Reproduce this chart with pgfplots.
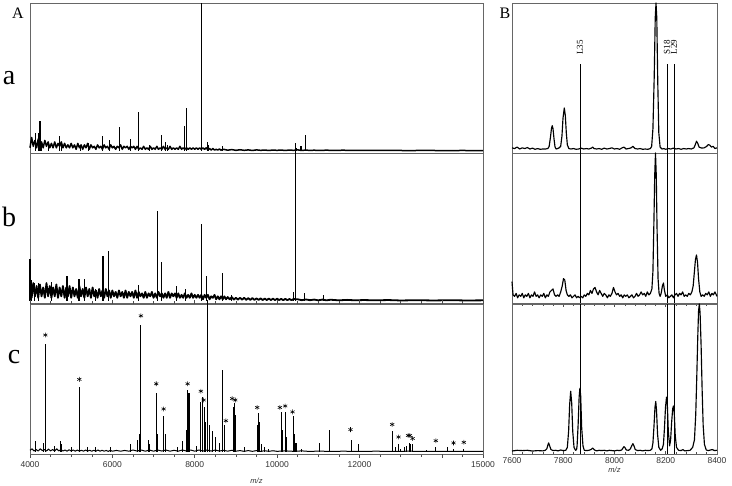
\documentclass[border=0pt]{standalone}
\usepackage{fontspec}
\setmainfont{Liberation Serif}
\setsansfont{Liberation Sans}
\usepackage{pgfplots}
\pgfplotsset{compat=1.18}

\pgfplotsset{
  spec/.style={
    scale only axis, height=150pt,
    ymin=-0.015, ymax=1, ytick=\empty,
    axis line style={black!60, line width=0.6pt},
    clip=false, scaled x ticks=false,
    /pgf/number format/assume math mode=true,
    /pgf/number format/1000 sep={},
    ticklabel style={font=\sffamily\fontsize{8.5}{10}\selectfont, text=black!80},
    xlabel style={font=\sffamily\itshape\fontsize{7.5}{8}\selectfont, text=black!80},
    major tick style={black!70, line width=0.5pt},
    minor tick style={black!70, line width=0.5pt},
  },
  left/.style={spec, width=453pt, xmin=4000, xmax=15000},
  right/.style={spec, width=205pt, xmin=7600, xmax=8400},
  trace/.style={black, line width=1.5pt, mark=none, line join=round},
  rtrace/.style={black, line width=1.15pt, mark=none, line join=round},
  stick/.style={ycomb, black, line width=1.1pt, mark=none},
  marker/.style={black, line width=0.8pt, mark=none},
}

\begin{document}
\begin{tikzpicture}
\path[use as bounding box] (0pt,0pt) rectangle (732pt,486pt);

% ---------------- A a ----------------
\begin{axis}[left, at={(30pt,333pt)}, anchor=south west, xtick=\empty]
\addplot[trace] coordinates {
(4000,0.02) (4040,0.09) (4080,0.03) (4120,0.07) (4160,0.02) (4200,0.08) (4240,0.03) (4280,0.06)
(4320,0.02) (4360,0.07) (4400,0.03) (4440,0.06) (4480,0.02) (4520,0.05) (4560,0.02) (4600,0.06)
(4640,0.02) (4680,0.05) (4720,0.03) (4760,0.06) (4800,0.02) (4840,0.05) (4880,0.02) (4920,0.04)
(4960,0.02) (5000,0.05) (5040,0.02) (5080,0.04) (5120,0.01) (5160,0.05) (5200,0.02) (5240,0.04)
(5280,0.01) (5320,0.04) (5360,0.02) (5400,0.05) (5440,0.01) (5480,0.04) (5520,0.02) (5560,0.03)
(5600,0.01) (5640,0.04) (5680,0.02) (5720,0.03) (5760,0.01) (5800,0.04) (5840,0.02) (5880,0.03)
(5920,0.01) (5960,0.04) (6000,0.02) (6040,0.03) (6080,0.01) (6120,0.03) (6160,0.02) (6200,0.04)
(6240,0.01) (6280,0.03) (6320,0.02) (6360,0.03) (6400,0.01) (6440,0.03) (6480,0.02) (6520,0.03)
(6560,0.01) (6600,0.03) (6640,0.01) (6680,0.02) (6720,0.01) (6760,0.03) (6800,0.01) (6840,0.02)
(6880,0.01) (6920,0.03) (6960,0.01) (7000,0.02) (7040,0.01) (7080,0.03) (7120,0.01) (7160,0.02)
(7200,0.01) (7240,0.03) (7280,0.01) (7320,0.02) (7360,0.01) (7400,0.03) (7440,0.01) (7480,0.02)
(7520,0.01) (7560,0.02) (7600,0.01) (7640,0.03) (7680,0.01) (7720,0.02) (7760,0.01) (7800,0.02)
(7840,0.01) (7880,0.02) (7920,0.01) (7960,0.02) (8000,0.01) (8040,0.02) (8080,0.01) (8120,0.02)
(8160,0.01) (8200,0.02) (8240,0.01) (8280,0.02) (8320,0.005) (8360,0.015) (8400,0.005) (8440,0.015)
(8480,0.005) (8520,0.01) (8560,0.005) (8600,0.012) (8640,0.004) (8700,0.01) (8800,0.004) (8900,0.008)
(9000,0.003) (9100,0.007) (9200,0.003) (9300,0.006) (9400,0.002) (9500,0.006) (9600,0.003) (9700,0.005)
(9800,0.002) (9900,0.005) (10000,0.003) (10100,0.005) (10200,0.002) (10300,0.005) (10400,0.003) (10500,0.006)
(10600,0.002) (10700,0.005) (10800,0.002) (10900,0.004) (11000,0.002) (11200,0.004) (11400,0.002) (11600,0.004)
(11800,0.002) (12000,0.003) (12400,0.002) (12800,0.003) (13200,0.001) (13600,0.003) (14000,0.001) (14500,0.002) (15000,0.001)
};
\addplot[stick] coordinates {
(4130,0.12) (4218,0.12) (4243,0.20) (4290,0.06) (4450,0.05) (4711,0.10) (4760,0.05) (5230,0.04)
(5420,0.05) (5764,0.10) (5925,0.07) (6168,0.16) (6451,0.08) (6629,0.26) (6900,0.04) (7188,0.11)
(7285,0.06) (7330,0.04) (7757,0.17) (7800,0.29) (8160,1.0) (8300,0.06) (8330,0.04) (8677,0.03)
(10449,0.05) (10480,0.02) (10580,0.03) (10690,0.11)
};
\end{axis}

% ---------------- A b ----------------
\begin{axis}[left, at={(30pt,183pt)}, anchor=south west, xtick=\empty]
\addplot[trace, line width=1.8pt] coordinates {
(4000,0.10) (4040,0.02) (4080,0.12) (4120,0.03) (4160,0.10) (4200,0.02) (4240,0.11) (4280,0.03)
(4320,0.09) (4360,0.02) (4400,0.12) (4440,0.03) (4480,0.10) (4520,0.02) (4560,0.09) (4600,0.03)
(4640,0.11) (4680,0.02) (4720,0.09) (4760,0.03) (4800,0.10) (4840,0.02) (4880,0.09) (4920,0.03)
(4960,0.10) (5000,0.02) (5040,0.09) (5080,0.03) (5120,0.08) (5160,0.02) (5200,0.10) (5240,0.03)
(5280,0.08) (5320,0.02) (5360,0.09) (5400,0.03) (5440,0.08) (5480,0.02) (5520,0.09) (5560,0.03)
(5600,0.07) (5640,0.02) (5680,0.08) (5720,0.03) (5760,0.07) (5800,0.02) (5840,0.08) (5880,0.03)
(5920,0.07) (5960,0.02) (6000,0.07) (6040,0.03) (6080,0.06) (6120,0.02) (6160,0.07) (6200,0.03)
(6240,0.06) (6280,0.02) (6320,0.07) (6360,0.02) (6400,0.06) (6440,0.03) (6480,0.06) (6520,0.02)
(6560,0.07) (6600,0.02) (6640,0.06) (6680,0.03) (6720,0.05) (6760,0.02) (6800,0.06) (6840,0.02)
(6880,0.05) (6920,0.03) (6960,0.06) (7000,0.02) (7040,0.05) (7080,0.02) (7120,0.06) (7160,0.03)
(7200,0.05) (7240,0.02) (7280,0.05) (7320,0.02) (7360,0.06) (7400,0.02) (7440,0.05) (7480,0.03)
(7520,0.05) (7560,0.02) (7600,0.05) (7640,0.02) (7680,0.04) (7720,0.02) (7760,0.05) (7800,0.02)
(7840,0.04) (7880,0.02) (7920,0.05) (7960,0.02) (8000,0.04) (8040,0.02) (8080,0.04) (8120,0.02)
(8160,0.04) (8200,0.01) (8240,0.04) (8280,0.02) (8320,0.04) (8360,0.01) (8400,0.03) (8440,0.02)
(8480,0.04) (8520,0.01) (8560,0.03) (8600,0.01) (8640,0.03) (8680,0.01) (8720,0.03) (8760,0.01)
(8800,0.025) (8850,0.01) (8900,0.025) (8950,0.008) (9000,0.02) (9050,0.008) (9100,0.02) (9150,0.008)
(9200,0.02) (9250,0.006) (9300,0.018) (9350,0.006) (9400,0.018) (9450,0.006) (9500,0.016) (9550,0.006)
(9600,0.016) (9650,0.005) (9700,0.015) (9750,0.005) (9800,0.015) (9850,0.005) (9900,0.014) (9950,0.005)
(10000,0.014) (10050,0.005) (10100,0.013) (10150,0.004) (10200,0.013) (10250,0.004) (10300,0.012) (10350,0.004)
(10400,0.012) (10500,0.01) (10600,0.004) (10700,0.009) (10800,0.004) (10900,0.008) (11000,0.003) (11100,0.008)
(11200,0.003) (11300,0.007) (11500,0.003) (11700,0.006) (11900,0.003) (12100,0.005) (12400,0.003) (12700,0.005)
(13000,0.002) (13400,0.004) (13800,0.002) (14200,0.004) (14600,0.002) (15000,0.003)
};
\addplot[stick] coordinates {
(4000,0.28) (4040,0.14) (4100,0.12) (4200,0.12) (4518,0.13) (4898,0.17) (5189,0.15) (5330,0.15)
(5600,0.08) (5772,0.30) (5910,0.34) (6629,0.11) (7099,0.61) (7196,0.26) (7568,0.10) (7779,0.08)
(8160,0.52) (8296,0.17) (8684,0.19) (8900,0.04) (10390,0.06) (10449,1.03) (10660,0.05) (11120,0.04)
};
\end{axis}

% ---------------- A c ----------------
\begin{axis}[left, at={(30pt,32pt)}, anchor=south west,
  xtick={4000,6000,8000,10000,12000,15000},
  extra x ticks={14000}, extra x tick labels={},
  minor xtick={4500,5000,...,14500},
  tick align=outside, major tick length=4pt, minor tick length=3pt,
  xlabel={m/z}, xlabel style={yshift=4pt}]
\addplot[trace, line width=1pt] coordinates {
(4000,0.01) (4050,0.02) (4100,0.005) (4150,0.015) (4200,0.005) (4250,0.02) (4300,0.008) (4350,0.015)
(4400,0.005) (4450,0.018) (4500,0.006) (4550,0.015) (4600,0.005) (4650,0.02) (4700,0.006) (4750,0.015)
(4800,0.005) (4850,0.012) (4900,0.004) (4950,0.014) (5000,0.005) (5050,0.012) (5100,0.004) (5150,0.012)
(5200,0.005) (5250,0.01) (5300,0.004) (5350,0.012) (5400,0.005) (5450,0.01) (5500,0.004) (5550,0.01)
(5600,0.004) (5650,0.012) (5700,0.004) (5750,0.01) (5800,0.004) (5850,0.009) (5900,0.003) (5950,0.01)
(6000,0.004) (6100,0.009) (6200,0.004) (6300,0.009) (6400,0.004) (6500,0.012) (6600,0.005) (6700,0.012)
(6800,0.004) (6900,0.012) (7000,0.004) (7100,0.012) (7200,0.005) (7300,0.012) (7400,0.004) (7500,0.01)
(7600,0.004) (7700,0.012) (7800,0.005) (7900,0.012) (8000,0.004) (8100,0.012) (8200,0.005) (8300,0.012)
(8400,0.005) (8500,0.012) (8600,0.005) (8700,0.01) (8800,0.004) (8900,0.01) (9000,0.004) (9100,0.008)
(9200,0.003) (9300,0.008) (9400,0.003) (9500,0.008) (9600,0.003) (9700,0.007) (9800,0.003) (9900,0.007)
(10000,0.003) (10200,0.006) (10400,0.003) (10600,0.006) (10800,0.002) (11000,0.005) (11300,0.002) (11600,0.004)
(12000,0.002) (12400,0.004) (12800,0.002) (13200,0.004) (13600,0.002) (14000,0.003) (14500,0.002) (15000,0.002)
};
\addplot[stick] coordinates {
(4130,0.07) (4330,0.06) (4372,0.73) (4600,0.04) (4730,0.07) (4760,0.05) (5000,0.03) (5197,0.44)
(5400,0.03) (5600,0.03) (5950,0.03) (6450,0.05) (6620,0.08) (6660,0.12) (6694,0.86) (6880,0.08)
(6900,0.05) (7066,0.40) (7100,0.12) (7245,0.24) (7280,0.12) (7580,0.03) (7700,0.07) (7800,0.15)
(7827,0.42) (7860,0.40) (8050,0.04) (8150,0.34) (8199,0.37) (8230,0.30) (8250,0.20) (8303,1.03)
(8350,0.18) (8434,0.14) (8500,0.10) (8600,0.06) (8684,0.55) (8733,0.18) (8950,0.30) (8968,0.33)
(9000,0.25) (9200,0.03) (9520,0.18) (9541,0.26) (9570,0.20) (9620,0.05) (9700,0.03) (9800,0.02)
(10109,0.27) (10130,0.15) (10206,0.27) (10230,0.10) (10400,0.24) (10420,0.12) (10460,0.06) (10600,0.02)
(11039,0.06) (11274,0.15) (11808,0.08) (11985,0.05) (12811,0.14) (12880,0.03) (12948,0.05) (13000,0.02)
(13100,0.03) (13150,0.04) (13206,0.06) (13250,0.05) (13288,0.05) (13630,0.01) (13854,0.03) (14138,0.03)
(14284,0.02) (14534,0.02)
};
\addplot[only marks, mark=asterisk, mark size=2.4pt, mark options={black, line width=0.55pt}] coordinates {
(4372,0.79) (5197,0.49) (6694,0.92) (7066,0.46) (7245,0.29) (7827,0.46) (8150,0.41) (8215,0.35)
(8757,0.21) (8910,0.36) (8984,0.35) (9517,0.30) (10068,0.30) (10197,0.31) (10375,0.27) (11782,0.15)
(12795,0.185) (12949,0.10) (13183,0.11) (13223,0.11) (13290,0.09) (13854,0.075) (14284,0.06) (14534,0.064)
};
\end{axis}

% ---------------- B a ----------------
\begin{axis}[right, at={(512pt,333pt)}, anchor=south west, xtick=\empty]
\addplot[rtrace] coordinates {
(7600,0.02) (7610,0.015) (7620,0.025) (7630,0.012) (7640,0.02) (7650,0.015) (7660,0.022) (7670,0.012)
(7680,0.018) (7690,0.01) (7700,0.015) (7710,0.01) (7720,0.012) (7730,0.012) (7740,0.015) (7745,0.03)
(7750,0.09) (7754,0.15) (7757,0.17) (7760,0.15) (7764,0.08) (7768,0.025) (7772,0.012) (7778,0.015)
(7784,0.02) (7790,0.03) (7795,0.10) (7799,0.22) (7804,0.29) (7808,0.24) (7812,0.12) (7816,0.04)
(7822,0.015) (7830,0.012) (7840,0.015) (7850,0.01) (7860,0.012) (7870,0.018) (7880,0.012) (7890,0.015)
(7900,0.012) (7910,0.018) (7915,0.025) (7920,0.015) (7930,0.012) (7940,0.015) (7950,0.01) (7960,0.018)
(7970,0.012) (7980,0.015) (7990,0.02) (8000,0.012) (8010,0.015) (8020,0.01) (8030,0.02) (8037,0.025)
(8045,0.012) (8055,0.015) (8065,0.02) (8072,0.03) (8080,0.015) (8090,0.012) (8100,0.015) (8110,0.01)
(8120,0.012) (8130,0.01) (8140,0.015) (8145,0.03) (8150,0.15) (8155,0.5) (8159,0.9) (8162,1.0)
(8165,0.9) (8169,0.45) (8173,0.12) (8178,0.025) (8185,0.012) (8192,0.015) (8200,0.01) (8210,0.015)
(8220,0.012) (8230,0.018) (8240,0.012) (8250,0.015) (8260,0.01) (8270,0.015) (8280,0.012) (8290,0.015)
(8300,0.012) (8310,0.02) (8315,0.04) (8320,0.065) (8325,0.05) (8330,0.025) (8340,0.018) (8350,0.02)
(8360,0.03) (8366,0.042) (8372,0.038) (8378,0.025) (8385,0.03) (8392,0.015) (8400,0.02)
};
\addplot[marker] coordinates {(7865,-0.015) (7865,0.59)};
\addplot[marker] coordinates {(8205,-0.015) (8205,0.59)};
\addplot[marker] coordinates {(8232,-0.015) (8232,0.59)};
\node[rotate=90, anchor=west, font=\fontsize{9}{9}\selectfont, xshift=1pt] at (axis cs:7865,0.62) {L35};
\node[rotate=90, anchor=west, font=\fontsize{9}{9}\selectfont, xshift=1.5pt] at (axis cs:8205,0.62) {S18};
\node[rotate=90, anchor=west, font=\fontsize{9}{9}\selectfont, xshift=1.5pt] at (axis cs:8232,0.62) {L29};
\end{axis}

% ---------------- B b ----------------
\begin{axis}[right, at={(512pt,183pt)}, anchor=south west, xtick=\empty]
\addplot[rtrace] coordinates {
(7600,0.13) (7604,0.04) (7610,0.03) (7616,0.05) (7622,0.02) (7628,0.04) (7634,0.03) (7640,0.05)
(7646,0.02) (7652,0.04) (7658,0.03) (7664,0.05) (7670,0.02) (7676,0.04) (7682,0.03) (7688,0.06)
(7694,0.03) (7700,0.04) (7706,0.02) (7712,0.04) (7718,0.03) (7724,0.05) (7730,0.02) (7736,0.04)
(7742,0.03) (7748,0.06) (7754,0.07) (7760,0.08) (7766,0.04) (7772,0.03) (7778,0.04) (7784,0.03)
(7790,0.06) (7796,0.10) (7801,0.15) (7806,0.14) (7811,0.07) (7816,0.04) (7822,0.03) (7828,0.04)
(7834,0.02) (7840,0.03) (7846,0.04) (7852,0.02) (7858,0.03) (7864,0.02) (7870,0.03) (7876,0.02)
(7882,0.04) (7888,0.03) (7894,0.05) (7900,0.04) (7906,0.07) (7912,0.05) (7918,0.08) (7924,0.09)
(7930,0.06) (7936,0.04) (7942,0.07) (7948,0.05) (7954,0.03) (7960,0.05) (7966,0.04) (7972,0.02)
(7978,0.04) (7984,0.03) (7990,0.05) (7996,0.09) (8002,0.06) (8008,0.04) (8014,0.05) (8020,0.03)
(8026,0.04) (8032,0.02) (8038,0.04) (8044,0.03) (8050,0.04) (8056,0.02) (8062,0.03) (8068,0.04)
(8074,0.02) (8080,0.03) (8086,0.05) (8092,0.03) (8098,0.04) (8104,0.06) (8110,0.04) (8116,0.05)
(8122,0.03) (8128,0.06) (8134,0.04) (8140,0.05) (8146,0.08) (8150,0.2) (8154,0.55) (8157,0.85)
(8160,1.0) (8163,0.85) (8166,0.5) (8170,0.15) (8174,0.05) (8178,0.03) (8182,0.05) (8187,0.10)
(8191,0.12) (8195,0.07) (8200,0.03) (8206,0.04) (8212,0.02) (8218,0.03) (8224,0.04) (8230,0.02)
(8236,0.04) (8242,0.05) (8248,0.03) (8254,0.05) (8260,0.04) (8266,0.06) (8272,0.03) (8278,0.04)
(8284,0.03) (8290,0.05) (8296,0.04) (8302,0.06) (8307,0.10) (8312,0.20) (8316,0.28) (8320,0.31)
(8324,0.26) (8328,0.15) (8333,0.06) (8338,0.03) (8344,0.04) (8350,0.03) (8356,0.05) (8362,0.04)
(8368,0.06) (8374,0.03) (8380,0.05) (8386,0.04) (8392,0.06) (8400,0.03)
};
\addplot[marker] coordinates {(7865,-0.015) (7865,1)};
\addplot[marker] coordinates {(8205,-0.015) (8205,1)};
\addplot[marker] coordinates {(8232,-0.015) (8232,1)};
\end{axis}

% ---------------- B c ----------------
\begin{axis}[right, at={(512pt,32pt)}, anchor=south west,
  xtick={7600,7800,...,8400}, minor tick num=4,
  tick align=inside, major tick length=3pt, minor tick length=2pt,
  xlabel={m/z}, xlabel style={yshift=3pt}]
\addplot[rtrace] coordinates {
(7600,0.005) (7620,0.01) (7640,0.008) (7660,0.01) (7680,0.005) (7700,0.008) (7720,0.006) (7730,0.01)
(7736,0.02) (7740,0.045) (7743,0.06) (7747,0.04) (7752,0.015) (7760,0.008) (7770,0.01) (7780,0.006)
(7790,0.012) (7800,0.008) (7810,0.01) (7816,0.03) (7821,0.14) (7825,0.32) (7829,0.41) (7833,0.33)
(7837,0.14) (7842,0.03) (7848,0.01) (7852,0.015) (7854,0.04) (7858,0.18) (7862,0.37) (7865,0.43)
(7868,0.38) (7872,0.16) (7877,0.04) (7882,0.01) (7890,0.008) (7900,0.01) (7908,0.015) (7915,0.025)
(7922,0.012) (7930,0.006) (7940,0.01) (7950,0.008) (7960,0.01) (7970,0.006) (7980,0.01) (7990,0.008)
(8000,0.006) (8010,0.01) (8020,0.008) (8028,0.012) (8033,0.025) (8037,0.035) (8041,0.028) (8046,0.012)
(8055,0.01) (8062,0.02) (8067,0.04) (8072,0.055) (8076,0.04) (8081,0.015) (8090,0.008) (8100,0.01)
(8110,0.006) (8120,0.01) (8130,0.008) (8140,0.01) (8146,0.02) (8150,0.06) (8154,0.17) (8158,0.30)
(8161,0.34) (8164,0.28) (8168,0.12) (8173,0.03) (8180,0.01) (8186,0.02) (8191,0.05) (8195,0.16)
(8199,0.30) (8203,0.37) (8206,0.33) (8210,0.14) (8215,0.04) (8219,0.08) (8223,0.20) (8227,0.29)
(8230,0.31) (8233,0.27) (8237,0.11) (8242,0.03) (8250,0.01) (8260,0.008) (8267,0.015) (8274,0.006)
(8285,0.008) (8295,0.01) (8305,0.03) (8312,0.08) (8317,0.25) (8321,0.5) (8325,0.78) (8328,0.95)
(8331,1.0) (8334,0.94) (8338,0.72) (8342,0.42) (8346,0.18) (8351,0.05) (8358,0.012) (8366,0.008)
(8374,0.012) (8382,0.015) (8390,0.008) (8400,0.01)
};
\addplot[marker] coordinates {(7865,-0.015) (7865,1)};
\addplot[marker] coordinates {(8205,-0.015) (8205,1)};
\addplot[marker] coordinates {(8232,-0.015) (8232,1)};
\end{axis}

% panel letters
\node[anchor=base, font=\fontsize{16}{16}\selectfont] at (18pt,467pt) {A};
\node[anchor=base, font=\fontsize{16}{16}\selectfont] at (505pt,467pt) {B};
\node[anchor=base, font=\fontsize{28}{28}\selectfont] at (9pt,401pt) {a};
\node[anchor=base, font=\fontsize{28}{28}\selectfont] at (9pt,259pt) {b};
\node[anchor=base, font=\fontsize{28}{28}\selectfont] at (14pt,122pt) {c};
\end{tikzpicture}
\end{document}
